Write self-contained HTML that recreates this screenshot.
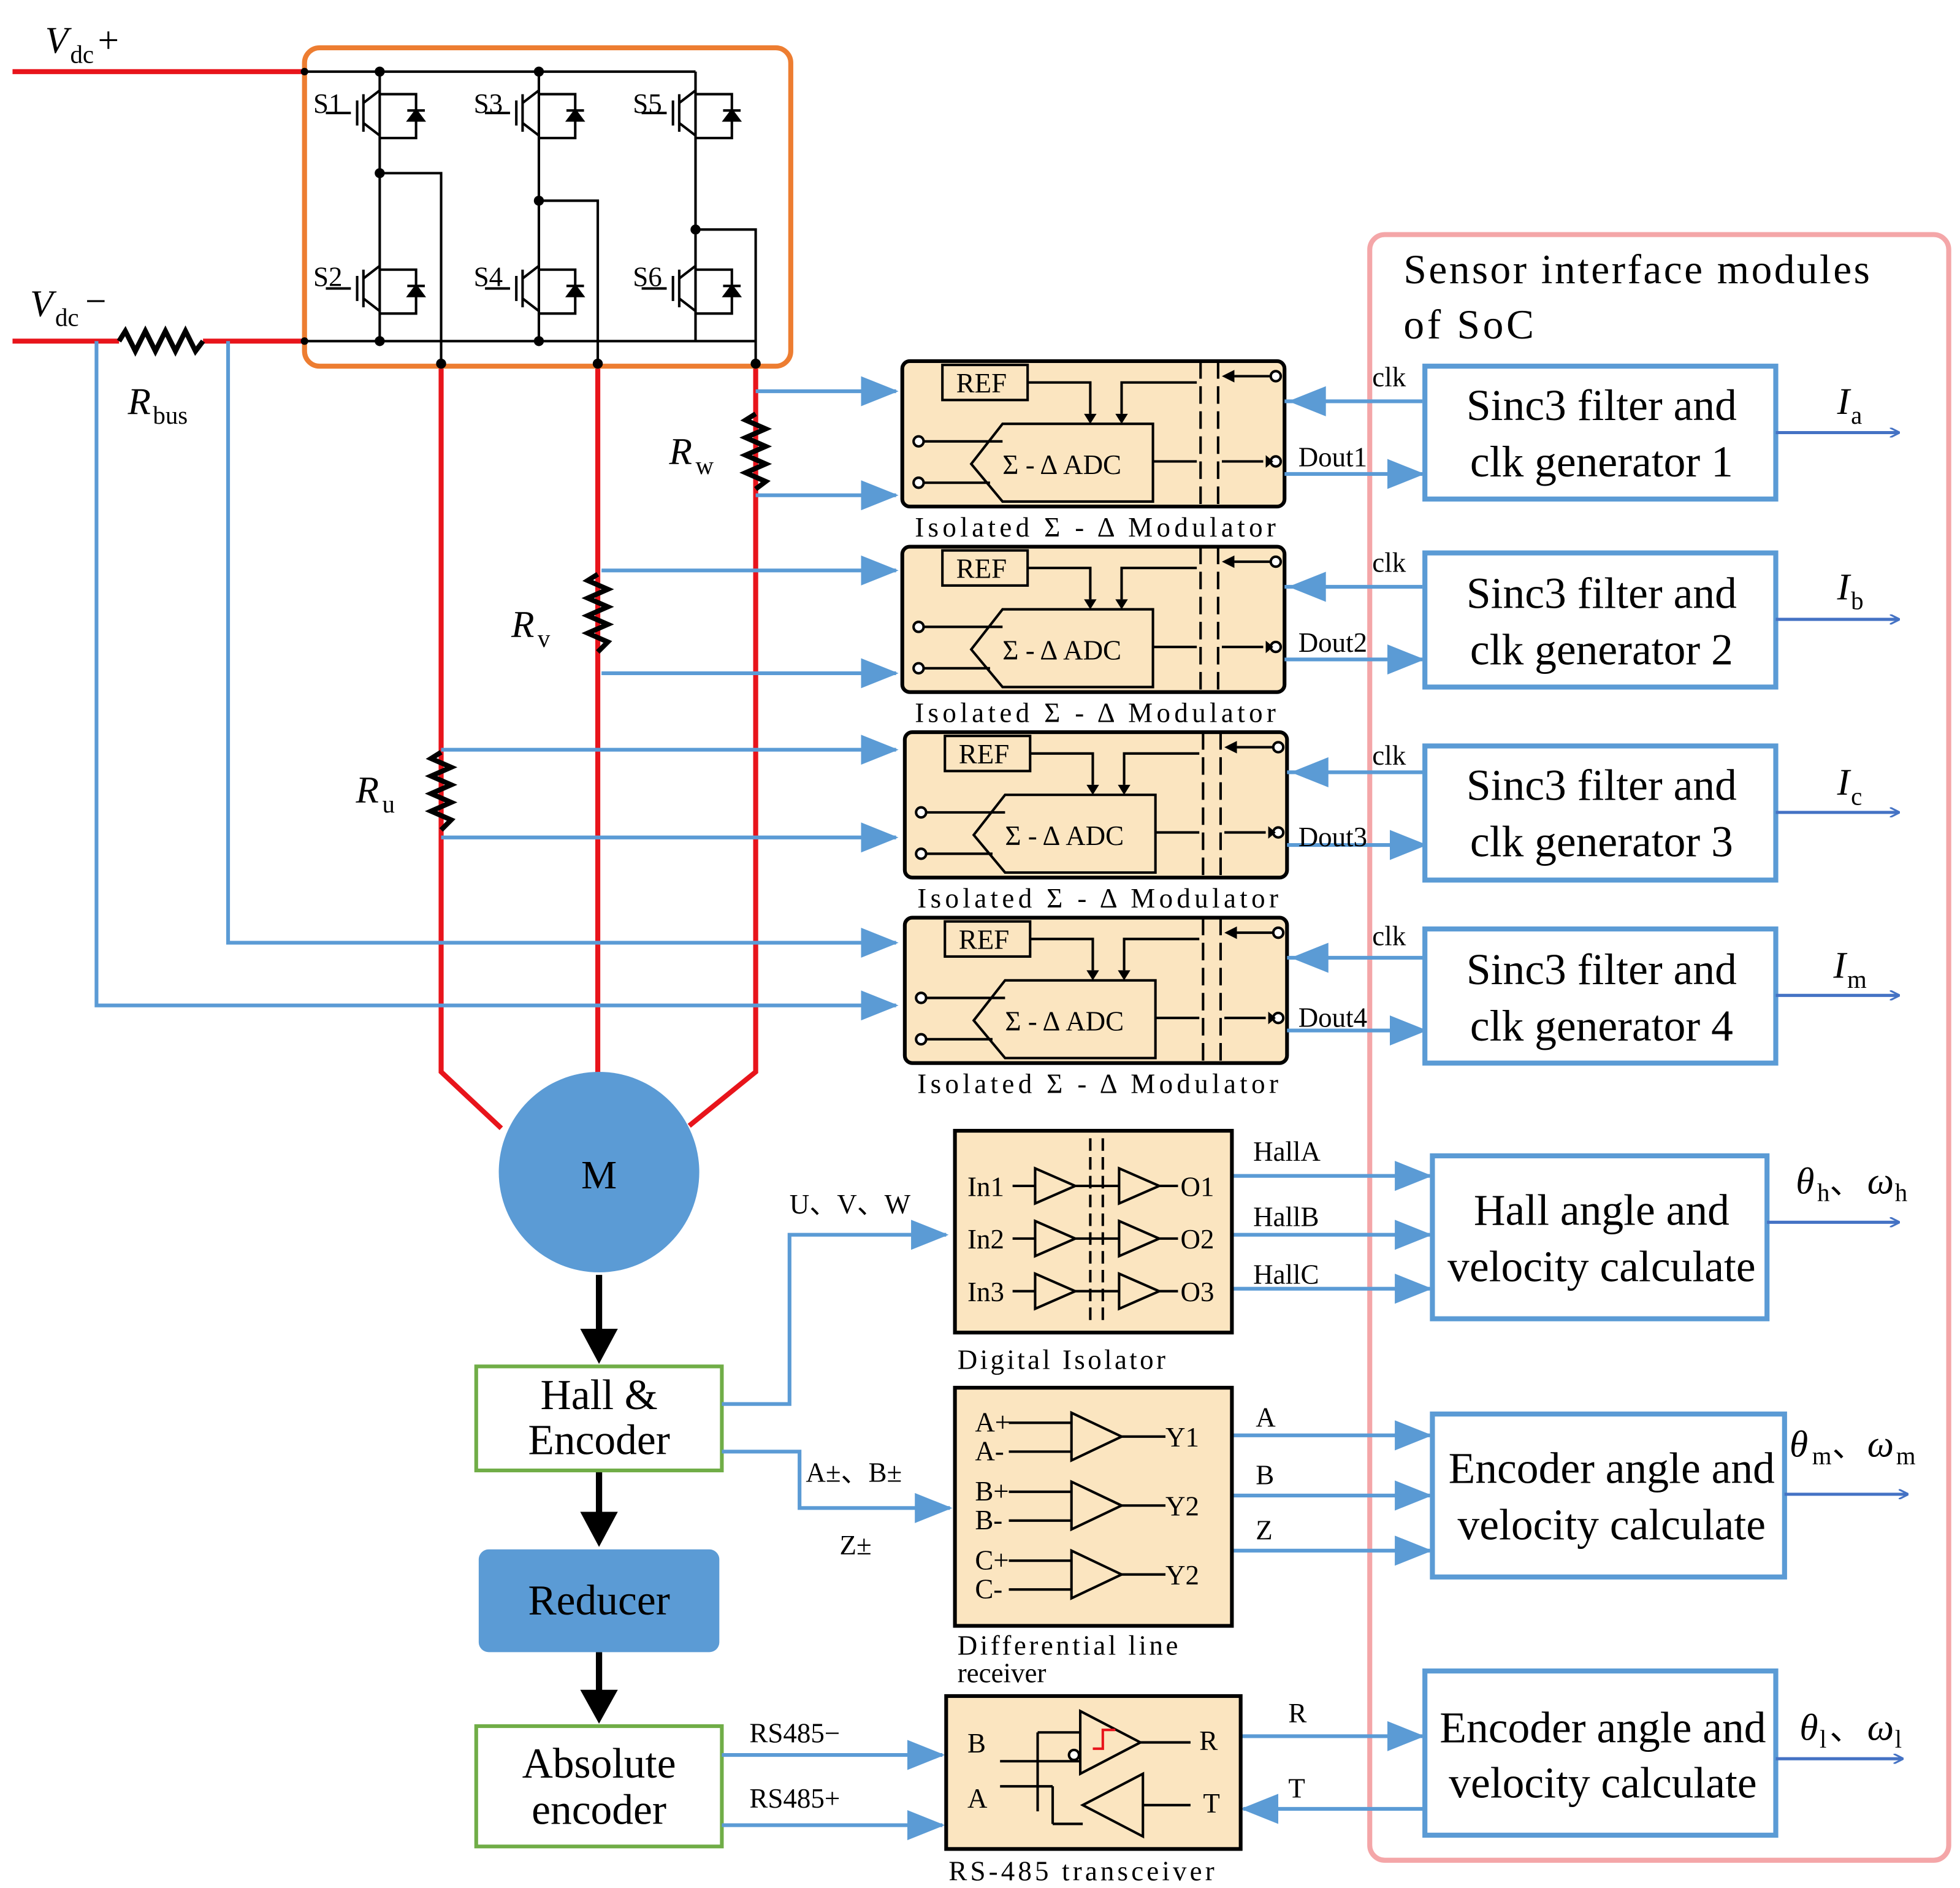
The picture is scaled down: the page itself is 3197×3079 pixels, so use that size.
<!DOCTYPE html>
<html><head><meta charset="utf-8"><style>html,body{margin:0;padding:0;background:#fff}svg{display:block}</style></head><body>
<svg width="3197" height="3079" viewBox="0 0 1564 1506" xmlns="http://www.w3.org/2000/svg" font-family="Liberation Serif, serif">
<defs>
<marker id="ab" markerWidth="8" markerHeight="8" refX="7" refY="4" orient="auto" markerUnits="userSpaceOnUse"><path d="M0,0 L8,4 L0,8" fill="none" stroke="#4472C4" stroke-width="1.5"/></marker>
<marker id="af" markerWidth="30" markerHeight="24" refX="28" refY="12" orient="auto" markerUnits="userSpaceOnUse"><path d="M0,0 L30,12 L0,24 Z" fill="#5B9BD5"/></marker>
</defs>
<rect width="1564" height="1506" fill="#fff"/>
<!-- pink SoC box -->
<rect x="1093" y="187" width="462" height="1297" rx="12" fill="none" stroke="#F4A6A8" stroke-width="4"/>
<text x="1120" y="226" font-size="33" textLength="372" lengthAdjust="spacing">Sensor interface modules</text>
<text x="1120" y="270" font-size="33" textLength="104" lengthAdjust="spacing">of SoC</text>
<!-- DC rails -->
<g stroke="#E8141B" stroke-width="4" fill="none">
<line x1="10" y1="57" x2="243" y2="57"/>
<line x1="10" y1="272" x2="95" y2="272"/><line x1="162" y1="272" x2="243" y2="272"/>
<polyline points="352,290 352,855 400,900"/><line x1="477" y1="290" x2="477" y2="858"/>
<polyline points="603,290 603,855 550,898"/>
</g>
<polyline points="95,272 100,264 108,280 116,264 124,280 132,264 140,280 148,264 156,280 162,272" fill="none" stroke="#000" stroke-width="4"/>
<text x="36" y="42" font-size="30" font-style="italic">V</text><text x="56" y="50" font-size="20">dc</text><text x="78" y="42" font-size="30">+</text>
<text x="24" y="252" font-size="30" font-style="italic">V</text><text x="44" y="260" font-size="20">dc</text><text x="68" y="250" font-size="30">−</text>
<text x="102" y="330" font-size="30" font-style="italic">R</text><text x="122" y="338" font-size="20">bus</text>
<!-- inverter -->
<rect x="243" y="38" width="388" height="254" rx="12" fill="none" stroke="#ED7D31" stroke-width="4"/>
<g stroke="#000" stroke-width="2" fill="none">
<line x1="243" y1="57" x2="555" y2="57"/><line x1="243" y1="272" x2="603" y2="272"/>
<line x1="303" y1="57" x2="303" y2="272"/><line x1="430" y1="57" x2="430" y2="272"/><line x1="555" y1="57" x2="555" y2="272"/>
<polyline points="303,138 352,138 352,290"/><polyline points="430,160 477,160 477,290"/><polyline points="555,183 603,183 603,290"/>
<g id="sw">
<line x1="290" y1="75" x2="290" y2="105"/><line x1="280" y1="90" x2="260" y2="90"/><line x1="285" y1="80" x2="285" y2="100"/>
<line x1="290" y1="82" x2="303" y2="72"/><line x1="290" y1="98" x2="303" y2="108"/>
<polyline points="303,75 332,75 332,110 303,110"/><path d="M326,96 L338,96 L332,88 Z" fill="#000"/><line x1="325" y1="88" x2="339" y2="88"/>
</g>
<use href="#sw" x="127"/><use href="#sw" x="252"/>
<use href="#sw" y="140"/><use href="#sw" x="127" y="140"/><use href="#sw" x="252" y="140"/>
</g>
<g fill="#000"><circle cx="303" cy="57" r="4"/><circle cx="430" cy="57" r="4"/><circle cx="303" cy="138" r="4"/><circle cx="430" cy="160" r="4"/><circle cx="555" cy="183" r="4"/><circle cx="303" cy="272" r="4"/><circle cx="430" cy="272" r="4"/><circle cx="243" cy="57" r="3"/><circle cx="243" cy="272" r="3"/><circle cx="352" cy="290" r="4"/><circle cx="477" cy="290" r="4"/><circle cx="603" cy="290" r="4"/></g>
<g font-size="22"><text x="250" y="90">S1</text><text x="378" y="90">S3</text><text x="505" y="90">S5</text><text x="250" y="228">S2</text><text x="378" y="228">S4</text><text x="505" y="228">S6</text></g>
<!-- shunt resistors -->
<g stroke="#000" stroke-width="4" fill="none">
<polyline points="603,330 595,335 611,342 595,349 611,356 595,363 611,370 595,377 611,384 603,390"/>
<polyline points="477,458 469,463 485,470 469,477 485,484 469,491 485,498 469,505 485,512 477,520"/>
<polyline points="352,600 344,605 360,612 344,619 360,626 344,633 360,640 344,647 360,654 352,662"/>
</g>
<text x="534" y="370" font-size="30" font-style="italic">R</text><text x="555" y="378" font-size="20">w</text>
<text x="408" y="508" font-size="30" font-style="italic">R</text><text x="429" y="516" font-size="20">v</text>
<text x="284" y="640" font-size="30" font-style="italic">R</text><text x="305" y="648" font-size="20">u</text>
<!-- blue sensing lines -->
<g stroke="#5B9BD5" stroke-width="3" fill="none" marker-end="url(#af)">
<polyline points="603,312 715,312"/><polyline points="603,395 715,395"/>
<polyline points="480,455 715,455"/><polyline points="480,537 715,537"/>
<polyline points="352,598 715,598"/><polyline points="352,668 715,668"/>
<polyline points="182,272 182,752 715,752"/><polyline points="77,272 77,802 715,802"/>
</g>
<!-- modulators -->
<g id="mod">
<rect x="720" y="288" width="305" height="116" rx="6" fill="#FBE5C0" stroke="#000" stroke-width="3"/>
<rect x="752" y="291" width="68" height="28" fill="none" stroke="#000" stroke-width="2"/><text x="763" y="313" font-size="22">REF</text>
<path d="M775,370 L800,338 L920,338 L920,400 L800,400 Z" fill="none" stroke="#000" stroke-width="2"/>
<text x="800" y="378" font-size="22">Σ - Δ ADC</text>
<g stroke="#000" stroke-width="2" fill="none">
<polyline points="820,305 870,305 870,330"/><polyline points="955,305 895,305 895,330"/>
<polyline points="736,352 800,352"/><polyline points="736,385 790,385"/>
<line x1="920" y1="368" x2="955" y2="368"/><line x1="958" y1="288" x2="958" y2="404" stroke-dasharray="14,6"/><line x1="972" y1="288" x2="972" y2="404" stroke-dasharray="14,6"/>
<line x1="985" y1="300" x2="1014" y2="300"/><line x1="975" y1="368" x2="1008" y2="368"/>
<circle cx="733" cy="352" r="4" fill="#fff"/><circle cx="733" cy="385" r="4" fill="#fff"/><circle cx="1018" cy="300" r="4" fill="#fff"/><circle cx="1018" cy="368" r="4" fill="#fff"/>
</g>
<path d="M865,330 L875,330 L870,338 Z M890,330 L900,330 L895,338 Z M975,300 L985,295 L985,305 Z M1010,363 L1010,373 L1016,368 Z" fill="#000"/>
<text x="730" y="428" font-size="22" textLength="288" lengthAdjust="spacing">Isolated  Σ - Δ  Modulator</text>
<line x1="1025" y1="320" x2="1135" y2="320" stroke="#5B9BD5" stroke-width="3"/>
<path d="M1028,320 L1058,308 L1058,332 Z" fill="#5B9BD5"/>
<line x1="1025" y1="378" x2="1135" y2="378" stroke="#5B9BD5" stroke-width="3" marker-end="url(#af)"/>
</g>
<use href="#mod" y="148"/><use href="#mod" x="2" y="296"/><use href="#mod" x="2" y="444"/>
<g font-size="22"><text x="1095" y="308">clk</text><text x="1036" y="372">Dout1</text>
<text x="1095" y="456">clk</text><text x="1036" y="520">Dout2</text>
<text x="1095" y="610">clk</text><text x="1036" y="675">Dout3</text>
<text x="1095" y="754">clk</text><text x="1036" y="819">Dout4</text></g>
<!-- sinc boxes -->
<g fill="#fff" stroke="#5B9BD5" stroke-width="4">
<rect x="1137" y="292" width="280" height="106"/><rect x="1137" y="441" width="280" height="107"/><rect x="1137" y="595" width="280" height="107"/><rect x="1137" y="741" width="280" height="107"/>
<rect x="1143" y="922" width="267" height="130"/><rect x="1143" y="1128" width="281" height="130"/><rect x="1137" y="1333" width="280" height="131"/>
</g>
<g font-size="35" text-anchor="middle">
<text x="1278" y="335">Sinc3 filter and</text><text x="1278" y="380">clk generator 1</text>
<text x="1278" y="485">Sinc3 filter and</text><text x="1278" y="530">clk generator 2</text>
<text x="1278" y="638">Sinc3 filter and</text><text x="1278" y="683">clk generator 3</text>
<text x="1278" y="785">Sinc3 filter and</text><text x="1278" y="830">clk generator 4</text>
<text x="1278" y="977">Hall angle and</text><text x="1278" y="1022">velocity calculate</text>
<text x="1286" y="1183">Encoder angle and</text><text x="1286" y="1228">velocity calculate</text>
<text x="1279" y="1390">Encoder angle and</text><text x="1279" y="1434">velocity calculate</text>
</g>
<g stroke="#4472C4" stroke-width="2.5" marker-end="url(#ab)">
<line x1="1417" y1="345" x2="1515" y2="345"/><line x1="1417" y1="494" x2="1515" y2="494"/><line x1="1417" y1="648" x2="1515" y2="648"/><line x1="1417" y1="794" x2="1515" y2="794"/>
<line x1="1410" y1="975" x2="1515" y2="975"/><line x1="1424" y1="1192" x2="1522" y2="1192"/><line x1="1417" y1="1403" x2="1518" y2="1403"/>
</g>
<g font-size="30" font-style="italic">
<text x="1466" y="330">I</text><text x="1466" y="478">I</text><text x="1466" y="634">I</text><text x="1463" y="780">I</text>
<text x="1433" y="952">θ</text><text x="1490" y="952">ω</text>
<text x="1428" y="1162">θ</text><text x="1490" y="1162">ω</text>
<text x="1436" y="1388">θ</text><text x="1490" y="1388">ω</text>
</g>
<g font-size="20"><text x="1477" y="338">a</text><text x="1477" y="486">b</text><text x="1477" y="642">c</text><text x="1474" y="788">m</text>
<text x="1450" y="958">h</text><text x="1460" y="952" font-size="26">、</text><text x="1512" y="958">h</text>
<text x="1446" y="1168">m</text><text x="1462" y="1162" font-size="26">、</text><text x="1513" y="1168">m</text>
<text x="1452" y="1394">l</text><text x="1460" y="1388" font-size="26">、</text><text x="1512" y="1394">l</text></g>
<!-- motor chain -->
<circle cx="478" cy="935" r="80" fill="#5B9BD5"/><text x="478" y="948" font-size="32" text-anchor="middle">M</text>
<g stroke="#000" stroke-width="5"><line x1="478" y1="1017" x2="478" y2="1062"/><line x1="478" y1="1173" x2="478" y2="1208"/><line x1="478" y1="1318" x2="478" y2="1350"/></g>
<g fill="#000"><path d="M463,1060 L493,1060 L478,1088 Z"/><path d="M463,1206 L493,1206 L478,1234 Z"/><path d="M463,1348 L493,1348 L478,1375 Z"/></g>
<rect x="380" y="1090" width="196" height="83" fill="#fff" stroke="#70AD47" stroke-width="3"/>
<text x="478" y="1124" font-size="34" text-anchor="middle">Hall &amp;</text><text x="478" y="1160" font-size="34" text-anchor="middle">Encoder</text>
<rect x="382" y="1236" width="192" height="82" rx="8" fill="#5B9BD5"/><text x="478" y="1288" font-size="34" text-anchor="middle">Reducer</text>
<rect x="380" y="1377" width="196" height="96" fill="#fff" stroke="#70AD47" stroke-width="3"/>
<text x="478" y="1418" font-size="34" text-anchor="middle">Absolute</text><text x="478" y="1455" font-size="34" text-anchor="middle">encoder</text>
<!-- connectors to interfaces -->
<g stroke="#5B9BD5" stroke-width="3" fill="none" marker-end="url(#af)">
<polyline points="576,1120 630,1120 630,985 755,985"/>
<polyline points="576,1158 638,1158 638,1203 758,1203"/>
<line x1="576" y1="1400" x2="752" y2="1400"/><line x1="576" y1="1456" x2="752" y2="1456"/>
<line x1="983" y1="938" x2="1141" y2="938"/><line x1="983" y1="985" x2="1141" y2="985"/><line x1="983" y1="1028" x2="1141" y2="1028"/>
<line x1="983" y1="1145" x2="1141" y2="1145"/><line x1="983" y1="1193" x2="1141" y2="1193"/><line x1="983" y1="1237" x2="1141" y2="1237"/>
<line x1="990" y1="1385" x2="1135" y2="1385"/><line x1="1137" y1="1443" x2="992" y2="1443"/>
</g>
<g font-size="22"><text x="630" y="968">U、V、W</text><text x="643" y="1182">A±、B±</text><text x="670" y="1240">Z±</text>
<text x="598" y="1390">RS485−</text><text x="598" y="1442">RS485+</text>
<text x="1000" y="926">HallA</text><text x="1000" y="978">HallB</text><text x="1000" y="1024">HallC</text>
<text x="1002" y="1138">A</text><text x="1002" y="1184">B</text><text x="1002" y="1228">Z</text>
<text x="1028" y="1374">R</text><text x="1028" y="1434">T</text></g>
<!-- digital isolator -->
<rect x="762" y="902" width="221" height="161" fill="#FBE5C0" stroke="#000" stroke-width="3"/>
<g stroke="#000" stroke-width="2" fill="none">
<path d="M826,932 L858,946 L826,960 Z M893,932 L925,946 L893,960 Z"/><path d="M826,974 L858,988 L826,1002 Z M893,974 L925,988 L893,1002 Z"/><path d="M826,1016 L858,1030 L826,1044 Z M893,1016 L925,1030 L893,1044 Z"/>
<line x1="808" y1="946" x2="826" y2="946"/><line x1="858" y1="946" x2="893" y2="946"/><line x1="925" y1="946" x2="940" y2="946"/>
<line x1="808" y1="988" x2="826" y2="988"/><line x1="858" y1="988" x2="893" y2="988"/><line x1="925" y1="988" x2="940" y2="988"/>
<line x1="808" y1="1030" x2="826" y2="1030"/><line x1="858" y1="1030" x2="893" y2="1030"/><line x1="925" y1="1030" x2="940" y2="1030"/>
<line x1="870" y1="908" x2="870" y2="1055" stroke-dasharray="10,5"/><line x1="880" y1="908" x2="880" y2="1055" stroke-dasharray="10,5"/>
</g>
<g font-size="22"><text x="772" y="954">In1</text><text x="772" y="996">In2</text><text x="772" y="1038">In3</text><text x="942" y="954">O1</text><text x="942" y="996">O2</text><text x="942" y="1038">O3</text></g>
<text x="764" y="1092" font-size="22" textLength="166" lengthAdjust="spacing">Digital Isolator</text>
<!-- differential receiver -->
<rect x="762" y="1107" width="221" height="190" fill="#FBE5C0" stroke="#000" stroke-width="3"/>
<g stroke="#000" stroke-width="2" fill="none">
<path d="M855,1127 L895,1146 L855,1165 Z"/><path d="M855,1182 L895,1201 L855,1220 Z"/><path d="M855,1237 L895,1256 L855,1275 Z"/>
<line x1="805" y1="1135" x2="855" y2="1135"/><line x1="805" y1="1158" x2="855" y2="1158"/><line x1="895" y1="1146" x2="930" y2="1146"/>
<line x1="805" y1="1190" x2="855" y2="1190"/><line x1="805" y1="1213" x2="855" y2="1213"/><line x1="895" y1="1201" x2="930" y2="1201"/>
<line x1="805" y1="1245" x2="855" y2="1245"/><line x1="805" y1="1268" x2="855" y2="1268"/><line x1="895" y1="1256" x2="930" y2="1256"/>
</g>
<g font-size="22"><text x="778" y="1142">A+</text><text x="778" y="1165">A-</text><text x="778" y="1197">B+</text><text x="778" y="1220">B-</text><text x="778" y="1252">C+</text><text x="778" y="1275">C-</text>
<text x="930" y="1154">Y1</text><text x="930" y="1209">Y2</text><text x="930" y="1264">Y2</text></g>
<text x="764" y="1320" font-size="22" textLength="176" lengthAdjust="spacing">Differential line</text><text x="764" y="1342" font-size="22">receiver</text>
<!-- RS485 -->
<rect x="755" y="1353" width="235" height="122" fill="#FBE5C0" stroke="#000" stroke-width="3"/>
<g stroke="#000" stroke-width="2" fill="none">
<path d="M862,1365 L910,1390 L862,1415 Z"/><path d="M912,1415 L864,1440 L912,1465 Z"/>
<line x1="910" y1="1390" x2="950" y2="1390"/><line x1="912" y1="1440" x2="950" y2="1440"/>
<polyline points="798,1405 862,1405"/><polyline points="828,1382 862,1382"/><line x1="828" y1="1382" x2="828" y2="1445"/>
<line x1="798" y1="1425" x2="840" y2="1425"/><line x1="840" y1="1425" x2="840" y2="1455"/><line x1="840" y1="1455" x2="864" y2="1455"/>
<circle cx="857" cy="1400" r="4" fill="#fff"/>
<polyline points="872,1395 880,1395 880,1380 890,1380" stroke="#E8141B"/>
</g>
<g font-size="22"><text x="772" y="1398">B</text><text x="772" y="1442">A</text><text x="957" y="1396">R</text><text x="960" y="1446">T</text></g>
<text x="757" y="1500" font-size="22" textLength="212" lengthAdjust="spacing">RS-485 transceiver</text>
</svg>
</body></html>
